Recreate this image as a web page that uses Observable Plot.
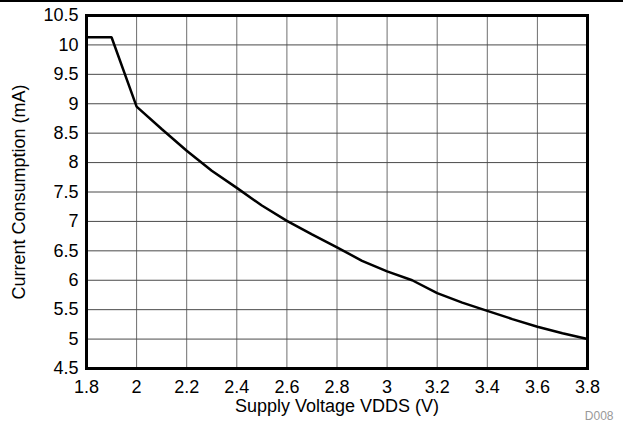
<!DOCTYPE html>
<html>
<head>
<meta charset="utf-8">
<script src="https://cdn.jsdelivr.net/npm/d3@7"></script>
<script src="https://cdn.jsdelivr.net/npm/@observablehq/plot@0.6"></script>
<style>
  html, body { margin: 0; padding: 0; background: #fff; }
  svg { display: block; }
</style>
</head>
<body>
<div id="chart"></div>
<script>
const voltage = [1.8, 1.9, 2.0, 2.1, 2.2, 2.3, 2.4, 2.5, 2.6, 2.7, 2.8, 2.9, 3.0, 3.1, 3.2, 3.3, 3.4, 3.5, 3.6, 3.7, 3.8];
const current = [10.13, 10.13, 8.95, 8.57, 8.2, 7.86, 7.57, 7.27, 7.01, 6.78, 6.56, 6.33, 6.15, 6.0, 5.78, 5.62, 5.48, 5.34, 5.21, 5.1, 5.0];
const xTicks = [1.8, 2, 2.2, 2.4, 2.6, 2.8, 3, 3.2, 3.4, 3.6, 3.8];
const yTicks = [4.5, 5, 5.5, 6, 6.5, 7, 7.5, 8, 8.5, 9, 9.5, 10, 10.5];
const xLabel = "Supply Voltage VDDS (V)";
const yLabel = "Current Consumption (mA)";
const code = "D008";

const data = voltage.map((v, i) => ({v, c: current[i]}));
const font = "Liberation Sans, Arial, Helvetica, sans-serif";

const chart = Plot.plot({
  width: 623,
  height: 425,
  marginLeft: 86,
  marginRight: 36,
  marginTop: 15,
  marginBottom: 57,
  style: {fontFamily: font, fontSize: "18px", color: "#000", background: "#fff"},
  x: {domain: [1.8, 3.8], ticks: xTicks, tickFormat: d => String(d), label: null},
  y: {domain: [4.5, 10.5], ticks: yTicks, tickFormat: d => String(d), label: null},
  marks: [
    Plot.gridX(xTicks, {stroke: "#6e6e6e", strokeOpacity: 1, strokeWidth: 1}),
    Plot.gridY(yTicks, {stroke: "#4a4a4a", strokeOpacity: 1, strokeWidth: 1}),
    Plot.axisX(xTicks, {tickSize: 0, tickPadding: 12, tickFormat: d => String(d), fontSize: 18}),
    Plot.axisY(yTicks, {tickSize: 0, tickPadding: 8, tickFormat: d => String(d), fontSize: 18}),
    Plot.line(data, {x: "v", y: "c", stroke: "#000", strokeWidth: 2.5, strokeLinejoin: "miter"}),
    Plot.frame({stroke: "#000", strokeWidth: 3}),
    Plot.text([xLabel], {frameAnchor: "bottom", textAnchor: "middle", dy: 43.5, fontSize: 18, fill: "#000"}),
    Plot.text([yLabel], {frameAnchor: "left", textAnchor: "middle", rotate: -90, dx: -67, dy: 0, fontSize: 18, fill: "#000"}),
    Plot.text([code], {frameAnchor: "bottom-right", textAnchor: "end", dx: 26, dy: 51, fontSize: 12, fill: "#999"})
  ]
});

const svg = d3.select(chart);
svg.insert("line", ":first-child")
  .attr("x1", 0).attr("x2", 623).attr("y1", 1).attr("y2", 1)
  .attr("stroke", "#000").attr("stroke-width", 2);
document.getElementById("chart").appendChild(chart);
</script>
</body>
</html>
